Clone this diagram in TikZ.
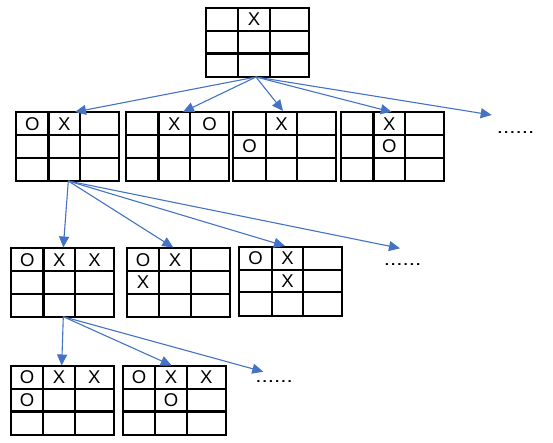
\documentclass[tikz,border=0pt]{standalone}
\usepackage{fontspec}
\setmainfont{Liberation Sans}
\usetikzlibrary{arrows.meta,calc}
\definecolor{arrowblue}{RGB}{68,114,196}
\tikzset{
  board/.style={rectangle, minimum width=103pt, minimum height=69pt, inner sep=0pt, outer sep=0pt},
  gridline/.style={line width=2.2pt, black},
  cell/.style={font=\fontsize{18.5}{18.5}\selectfont, inner sep=0pt},
  moredots/.style={font=\fontsize{18}{18}\selectfont, inner sep=0pt},
  link/.style={arrowblue, line width=1.1pt, -{Triangle[length=11pt,width=10pt]}}
}
\def\colx#1{\ifcase#1 \or 16.25\or 48.25\or 83.5\fi}
\def\rowy#1{\ifcase#1 \or 11.5\or 34.25\or 57.25\fi}
\newcommand\tttboard[3]{%
  \node[board, anchor=north west] (#1) at (#2,#3) {};
  \draw[gridline] (#1.north west) rectangle (#1.south east);
  \draw[gridline] ($(#1.north west)+(32.5,0)$) -- ($(#1.south west)+(32.5,0)$);
  \draw[gridline] ($(#1.north west)+(64,0)$) -- ($(#1.south west)+(64,0)$);
  \draw[gridline] ($(#1.north west)+(0,23)$) -- ($(#1.north east)+(0,23)$);
  \draw[gridline] ($(#1.north west)+(0,45.5)$) -- ($(#1.north east)+(0,45.5)$);
}
\newcommand\putcell[4]{\node[cell] (#1-#2#3) at ($(#1.north west)+(\colx{#2},\rowy{#3})$) {#4};}
\begin{document}
\begin{tikzpicture}[x=1pt,y=-1pt]
\useasboundingbox (0,0) rectangle (553,443);
% root
\tttboard{root}{205.7}{8}
\putcell{root}{2}{1}{X}
% level 1
\tttboard{a}{16}{112.3}
\putcell{a}{1}{1}{O}\putcell{a}{2}{1}{X}
\tttboard{b}{126}{112.3}
\putcell{b}{2}{1}{X}\putcell{b}{3}{1}{O}
\tttboard{c}{233.3}{112.3}
\putcell{c}{2}{1}{X}\putcell{c}{1}{2}{O}
\tttboard{d}{341}{112.3}
\putcell{d}{2}{1}{X}\putcell{d}{2}{2}{O}
\node[moredots] (dots1) at (515.5,133) {\scalebox{1.25}[1]{......}};
% level 2
\tttboard{aa}{11}{248.3}
\putcell{aa}{1}{1}{O}\putcell{aa}{2}{1}{X}\putcell{aa}{3}{1}{X}
\tttboard{ab}{126.7}{248.3}
\putcell{ab}{1}{1}{O}\putcell{ab}{2}{1}{X}\putcell{ab}{1}{2}{X}
\tttboard{ac}{239.3}{246.7}
\putcell{ac}{1}{1}{O}\putcell{ac}{2}{1}{X}\putcell{ac}{2}{2}{X}
\node[moredots] (dots2) at (402.5,265) {\scalebox{1.25}[1]{......}};
% level 3
\tttboard{aaa}{10.7}{366}
\putcell{aaa}{1}{1}{O}\putcell{aaa}{2}{1}{X}\putcell{aaa}{3}{1}{X}\putcell{aaa}{1}{2}{O}
\tttboard{aab}{122.7}{366}
\putcell{aab}{1}{1}{O}\putcell{aab}{2}{1}{X}\putcell{aab}{3}{1}{X}\putcell{aab}{2}{2}{O}
\node[moredots] (dots3) at (274,382) {\scalebox{1.25}[1]{......}};
% connector end points
\coordinate (root-out) at (256,77);
\coordinate (a-in) at (75,112);
\coordinate (b-in) at (183,112);
\coordinate (c-in) at (283,111);
\coordinate (d-in) at (391.7,112);
\coordinate (more1) at (491.7,115);
\coordinate (a-out) at (68.3,181);
\coordinate (aa-in) at (63.3,247.5);
\coordinate (ab-in) at (173.3,247.5);
\coordinate (ac-in) at (285,246);
\coordinate (more2) at (400,248.3);
\coordinate (aa-out) at (63.3,316.7);
\coordinate (aaa-in) at (61.7,365.5);
\coordinate (aab-in) at (171.7,365.5);
\coordinate (more3) at (263.3,371.7);
% connectors
\foreach \t in {a-in,b-in,c-in,d-in,more1} \draw[link] (root-out) -- (\t);
\foreach \t in {aa-in,ab-in,ac-in,more2} \draw[link] (a-out) -- (\t);
\foreach \t in {aaa-in,aab-in,more3} \draw[link] (aa-out) -- (\t);
\end{tikzpicture}
\end{document}
